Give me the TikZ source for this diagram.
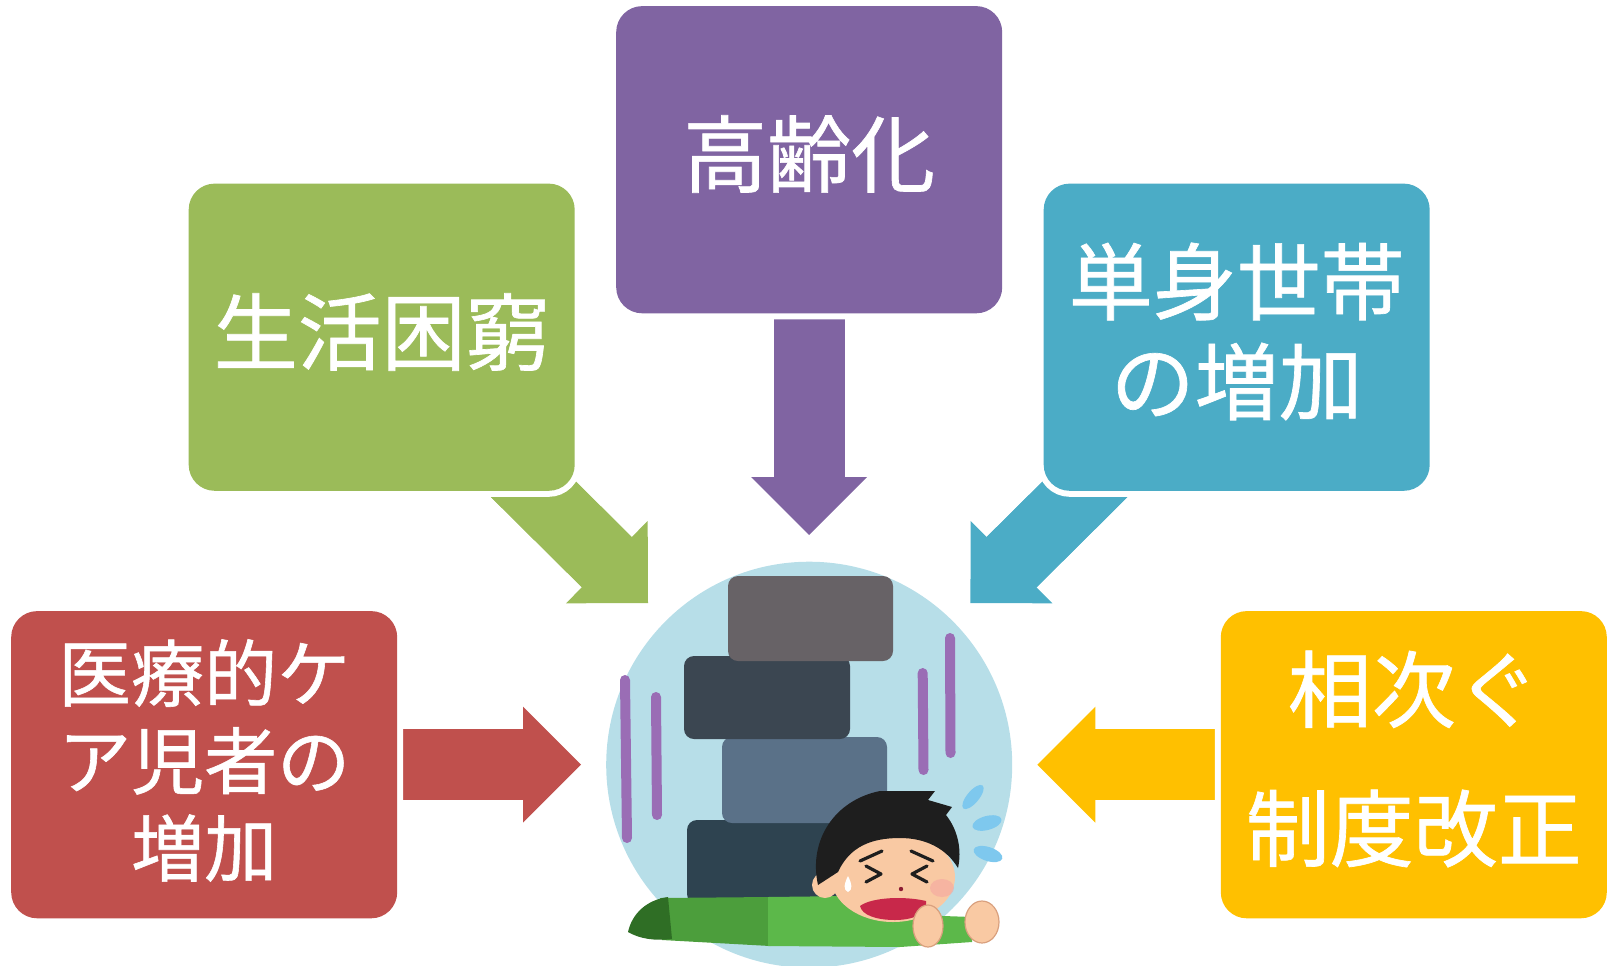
\documentclass[tikz,border=0pt]{standalone}
\usepackage{fontspec}
\newfontfamily\jpfont[FakeBold=0.8]{Noto Sans CJK JP}
\usetikzlibrary{arrows.meta,calc}
\pgfdeclarelayer{behind}
\pgfsetlayers{behind,main}

\definecolor{redbox}{HTML}{C0504D}
\definecolor{greenbox}{HTML}{9BBB59}
\definecolor{purplebox}{HTML}{8064A2}
\definecolor{bluebox}{HTML}{4BACC6}
\definecolor{yellowbox}{HTML}{FFC000}
\definecolor{hubfill}{HTML}{B7DEE8}
\definecolor{stoneA}{HTML}{676266}
\definecolor{stoneB}{HTML}{3B4651}
\definecolor{stoneC}{HTML}{5A7188}
\definecolor{stoneD}{HTML}{2E4350}
\definecolor{shake}{HTML}{9A6DB5}
\definecolor{legs}{HTML}{4C9E3C}
\definecolor{shirt}{HTML}{5CB84A}
\definecolor{shoes}{HTML}{2F6E25}
\definecolor{skin}{HTML}{F9C9A3}
\definecolor{skinline}{HTML}{D9A07E}
\definecolor{mouth}{HTML}{C8284A}
\definecolor{sweat}{HTML}{7EC8EE}
\definecolor{blush}{HTML}{F4A7A0}
\definecolor{hair}{HTML}{1E1E1E}

% block arrow: colour, tail, tip (the shaft is run into the head so no seam shows)
\newcommand\causearrow[3]{%
  \draw[line width=35.4pt, #1] (#2) -- ($(#3)!22.5pt!(#2)$);
  \draw[blockarrow, #1] (#2) -- (#3);}

\begin{document}
\begin{tikzpicture}[x=0.5pt,y=-0.5pt,
  card/.style={rounded corners=13pt, minimum width=193pt, minimum height=153.6pt,
    inner sep=0pt, preaction={draw=white, line width=6pt}},
  cardtext/.style={text=white, align=center, inner sep=0pt,
    font=\jpfont\fontsize{42pt}{50pt}\selectfont},
  blockarrow/.style={line width=35.4pt,
    -{Triangle[width=58pt,length=29pt,line width=0pt]}},
  stone/.style={rounded corners=5pt},
  shakeline/.style={draw=shake, line width=5pt, line cap=round},
  face/.style={line width=1.6pt, line cap=round, line join=round, draw=hair}
]
\useasboundingbox (0,0) rectangle (1608,965);
\clip (0,0) rectangle (1608,965);

% cause cards
\node[card, fill=redbox]    (red)    at (204.2,764.7) {};
\node[card, fill=greenbox]  (green)  at (381.7,337.2) {};
\node[card, fill=purplebox] (purple) at (809.2,159.7) {};
\node[card, fill=bluebox]   (blue)   at (1236.7,337.2) {};
\node[card, fill=yellowbox] (yellow) at (1413.8,764.7) {};

\node[cardtext, font=\jpfont\fontsize{36.5pt}{43.75pt}\selectfont] (redtext) at (204.2,760.5) {医療的ケ\\ア児者の\\増加};
\node[cardtext] (greentext)  at (381.7,332)   {生活困窮};
\node[cardtext] (purpletext) at (809.2,154)   {高齢化};
\node[cardtext] (bluetext)   at (1236.7,331.5) {単身世帯\\の増加};
\node[cardtext, font=\jpfont\fontsize{42pt}{69.5pt}\selectfont] (yellowtext) at (1413.8,759) {相次ぐ\\制度改正};

% central disc
\node[circle, fill=hubfill, minimum size=203pt, inner sep=0pt] (hub) at (809.2,764.7) {};

% arrow tails and tips
\coordinate (tailG) at ($(green.south east)+(-70,-30)$);
\coordinate (tailB) at ($(blue.south west)+(70,-30)$);
\coordinate (tipR) at (581,764.7);
\coordinate (tipG) at (648,603);
\coordinate (tipP) at (809.2,535);
\coordinate (tipB) at (970.4,603);
\coordinate (tipY) at (1037.4,764.7);

\begin{pgfonlayer}{behind}
  \causearrow{redbox}{red.east}{tipR}
  \causearrow{greenbox}{tailG}{tipG}
  \causearrow{purplebox}{purple.south}{tipP}
  \causearrow{bluebox}{tailB}{tipB}
  \causearrow{yellowbox}{yellow.west}{tipY}
\end{pgfonlayer}

% shaking lines
\draw[shakeline] (625,680) -- (627,838);
\draw[shakeline] (656,697) -- (657,815);
\draw[shakeline] (922.7,673) -- (923.5,770);
\draw[shakeline] (950,638) -- (950.5,753);

% stacked stones
\fill[stoneD, stone] (687,820) rectangle (862,904);
\fill[stoneC, stone] (722,737) rectangle (887,823);
\fill[stoneB, stone] (684,656) rectangle (850,739);
\fill[stoneA, stone] (728,576) rectangle (893,661);

% person lying under the stones
\fill[legs] (660,898) -- (770,897) -- (770,946) -- (662,940) -- cycle;
\fill[shoes] (628,932) .. controls (632,914) and (646,900) .. (668,897)
  -- (672,939) .. controls (655,941) and (640,939) .. (628,932) -- cycle;
\fill[shirt] (768,897) -- (850,896) -- (915,915) -- (972,917)
  -- (972,942) -- (900,947) -- (768,946) -- cycle;

% face and hair
\fill[skin] (893,877) ellipse [x radius=62, y radius=45];
\fill[skin] (825,885) circle (13);
\fill[hair] (818,885) .. controls (808,840) and (835,800) .. (880,791)
  -- (935,791) -- (928,800) -- (952,807) -- (946,815)
  .. controls (958,830) and (962,850) .. (958,868)
  .. controls (946,848) and (925,838) .. (900,838)
  .. controls (872,838) and (850,846) .. (838,872) -- cycle;
\fill[blush, opacity=0.6] (942,888) ellipse [x radius=12, y radius=9];
\draw[face] (860,861) -- (882,851);
\draw[face] (911,851) -- (933,861);
\draw[face] (866,866) -- (881,874) -- (866,882);
\draw[face] (927,866) -- (912,874) -- (927,882);
\fill[mouth!70!black] (901,889) circle (2.2);
\fill[white] (848,876) .. controls (844,884) and (843,890) .. (848,892)
  .. controls (853,890) and (852,884) .. (848,876) -- cycle;
\fill[mouth] (860,906) .. controls (872,897) and (905,896) .. (926,901)
  .. controls (928,912) and (916,920) .. (895,920)
  .. controls (876,920) and (862,915) .. (860,906) -- cycle;

% hands
\filldraw[fill=skin, draw=skinline, line width=0.6pt] (928,926) ellipse [x radius=15, y radius=21];
\filldraw[fill=skin, draw=skinline, line width=0.6pt] (982,922) ellipse [x radius=17, y radius=21];

% sweat drops
\fill[sweat] (973,797) ellipse [x radius=15, y radius=6, rotate=50];
\fill[sweat] (987,823) ellipse [x radius=15, y radius=7, rotate=15];
\fill[sweat] (988,854) ellipse [x radius=15, y radius=7, rotate=-18];
\end{tikzpicture}
\end{document}
